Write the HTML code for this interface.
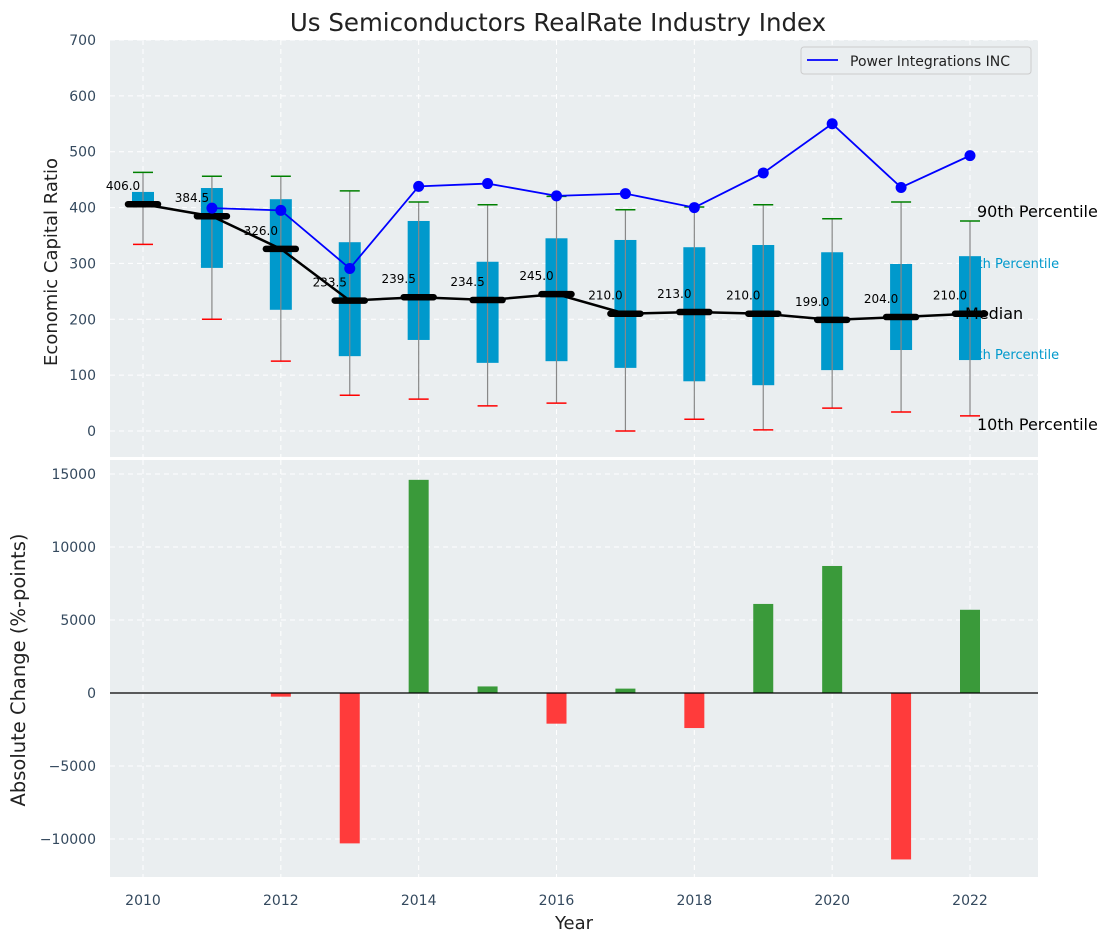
<!DOCTYPE html>
<html><head><meta charset="utf-8"><style>
body{margin:0;background:#fff;}
svg{display:block;font-family:"DejaVu Sans","Liberation Sans",sans-serif;}
.tick{fill:#34495e;font-size:14px;font-family:"DejaVu Sans","Liberation Sans",sans-serif;}
.grid{stroke:#fff;stroke-dasharray:5,4;stroke-width:1;}
</style></head><body>
<svg id="chart" width="1112" height="942" xmlns="http://www.w3.org/2000/svg"></svg>
<script>
const years=[2010,2011,2012,2013,2014,2015,2016,2017,2018,2019,2020,2021,2022];
const p10=[334,200,125,64,57,45,50,0,21,2,41,34,27];
const p25=[401,292,217,134,163,122,125,113,89,82,109,145,127];
const medians=[406,384.5,326,233.5,239.5,234.5,245,210,213,210,199,204,210];
const p75=[428,435,415,338,376,303,345,342,329,333,320,299,313];
const p90=[463,456,456,430,410,405,420,396,401,405,380,410,376];
const companyYears=[2011,2012,2013,2014,2015,2016,2017,2018,2019,2020,2021,2022];
const companyValues=[399,395,291,438,443,421,425,400,462,550,436,493];
const changeYears=[2010,2011,2012,2013,2014,2015,2016,2017,2018,2019,2020,2021,2022];
const changeValues=[0,0,-250,-10300,14600,450,-2100,300,-2400,6100,8700,-11400,5700];
const yTicksTop=[0,100,200,300,400,500,600,700];
const yTicksBot=[-10000,-5000,0,5000,10000,15000];
const xTicks=[2010,2012,2014,2016,2018,2020,2022];

const svg=document.getElementById('chart');
const NS='http://www.w3.org/2000/svg';
function el(tag,attrs,parent){const e=document.createElementNS(NS,tag);for(const k in attrs)e.setAttribute(k,attrs[k]);(parent||svg).appendChild(e);return e;}
const L=110,R=1038,T1=40,B1=457,T2=460,B2=877;
const x=v=>143+(v-2010)*(970-143)/12;
const y1=v=>431-v*(431-40)/700;
const y2=v=>693-v*(693-474)/15000;

let t=el('text',{x:558,y:31,'text-anchor':'middle','font-size':'24.5','fill':'#222'});


t.textContent='Us Semiconductors RealRate Industry Index';

// top panel
let bg=el('rect',{x:L,y:T1,width:R-L,height:B1-T1,fill:'#eaeef0'});


xTicks.forEach(v=>{el('line',{x1:x(v),x2:x(v),y1:T1,y2:B1,class:'grid'});});
yTicksTop.forEach(v=>{el('line',{x1:L,x2:R,y1:y1(v),y2:y1(v),class:'grid'});
 const tk=el('text',{x:96,y:y1(v)+5,'text-anchor':'end',class:'tick'});
 
 
 tk.textContent=v;});
// right labels behind boxes
const rl=[['90th Percentile',977,217,16,'#000'],['75th Percentile',961,268,13,'#0099cc'],['25th Percentile',961,359,13,'#0099cc'],['10th Percentile',977,430,16,'#000']];
rl.forEach(r=>{const e=el('text',{x:r[1],y:r[2],'font-size':r[3],fill:r[4]});
 
 
 e.textContent=r[0];});
const bw=22;
years.forEach((yr,i)=>{
 const cx=x(yr);
 const b=el('rect',{x:cx-bw/2,y:y1(p75[i]),width:bw,height:y1(p25[i])-y1(p75[i]),fill:'#0099cc'});
 
 
 const w=el('line',{x1:cx,x2:cx,y1:y1(p90[i]),y2:y1(p10[i]),stroke:'#888','stroke-width':1.2});
 
 
 const c1=el('line',{x1:cx-10,x2:cx+10,y1:y1(p90[i]),y2:y1(p90[i]),stroke:'green','stroke-width':1.5});
 
 
 const c2=el('line',{x1:cx-10,x2:cx+10,y1:y1(p10[i]),y2:y1(p10[i]),stroke:'red','stroke-width':1.5});
 
 
});
let md=years.map((yr,i)=>x(yr)+','+y1(medians[i])).join(' ');
let ml=el('polyline',{points:md,fill:'none',stroke:'#000','stroke-width':2.5});


years.forEach((yr,i)=>{
 const m=el('line',{x1:x(yr)-15,x2:x(yr)+15,y1:y1(medians[i]),y2:y1(medians[i]),stroke:'#000','stroke-width':6.5,'stroke-linecap':'round'});
 
 
 const lb=el('text',{x:x(yr)-20,y:y1(medians[i])-14,'text-anchor':'middle','font-size':'12',fill:'#000'});
 
 
 lb.textContent=medians[i].toFixed(1);
});
let mt=el('text',{x:965,y:319,'font-size':16,fill:'#000'});


mt.textContent='Median';
let cp=companyYears.map((yr,i)=>x(yr)+','+y1(companyValues[i])).join(' ');
let cl=el('polyline',{points:cp,fill:'none',stroke:'#0000ff','stroke-width':1.8});


companyYears.forEach((yr,i)=>{const c=el('circle',{cx:x(yr),cy:y1(companyValues[i]),r:5.5,fill:'#0000ff'});
 
 });
let lg=el('g',{});


el('rect',{x:801,y:47,width:230,height:27,rx:3,fill:'#eaeef0',stroke:'#ccc'},lg);
el('line',{x1:807,x2:838,y1:60,y2:60,stroke:'#0000ff','stroke-width':1.8},lg);
let lt=el('text',{x:850,y:66,'font-size':'14',fill:'#222'},lg);
lt.textContent='Power Integrations INC';
let yl=el('text',{x:0,y:0,'font-size':'18',fill:'#222','text-anchor':'middle',transform:'translate(57,262) rotate(-90)'});


yl.textContent='Economic Capital Ratio';

// bottom panel
let bg2=el('rect',{x:L,y:T2,width:R-L,height:B2-T2,fill:'#eaeef0'});


xTicks.forEach(v=>{el('line',{x1:x(v),x2:x(v),y1:T2,y2:B2,class:'grid'});
 const tk=el('text',{x:x(v),y:905,'text-anchor':'middle',class:'tick'});
 
 
 tk.textContent=v;});
yTicksBot.forEach(v=>{el('line',{x1:L,x2:R,y1:y2(v),y2:y2(v),class:'grid'});
 const tk=el('text',{x:96,y:y2(v)+5,'text-anchor':'end',class:'tick'});
 
 
 tk.textContent=v<0?'\u2212'+Math.abs(v):v;});
changeYears.forEach((yr,i)=>{const v=changeValues[i];if(v===0)return;
 const b=el('rect',{x:x(yr)-10,y:Math.min(y2(v),y2(0)),width:20,height:Math.abs(y2(v)-y2(0)),fill:v>0?'#3a9a3a':'#ff3b3b'});
 
 });
let zl=el('line',{x1:L,x2:R,y1:y2(0),y2:y2(0),stroke:'#000','stroke-width':1.2});


let yl2=el('text',{x:0,y:0,'font-size':'19.5','fill':'#222','text-anchor':'middle',transform:'translate(25,670) rotate(-90)'});


yl2.textContent='Absolute Change (%-points)';
let xl=el('text',{x:574,y:929,'font-size':'18',fill:'#222','text-anchor':'middle'});


xl.textContent='Year';
</script>
</body></html>
